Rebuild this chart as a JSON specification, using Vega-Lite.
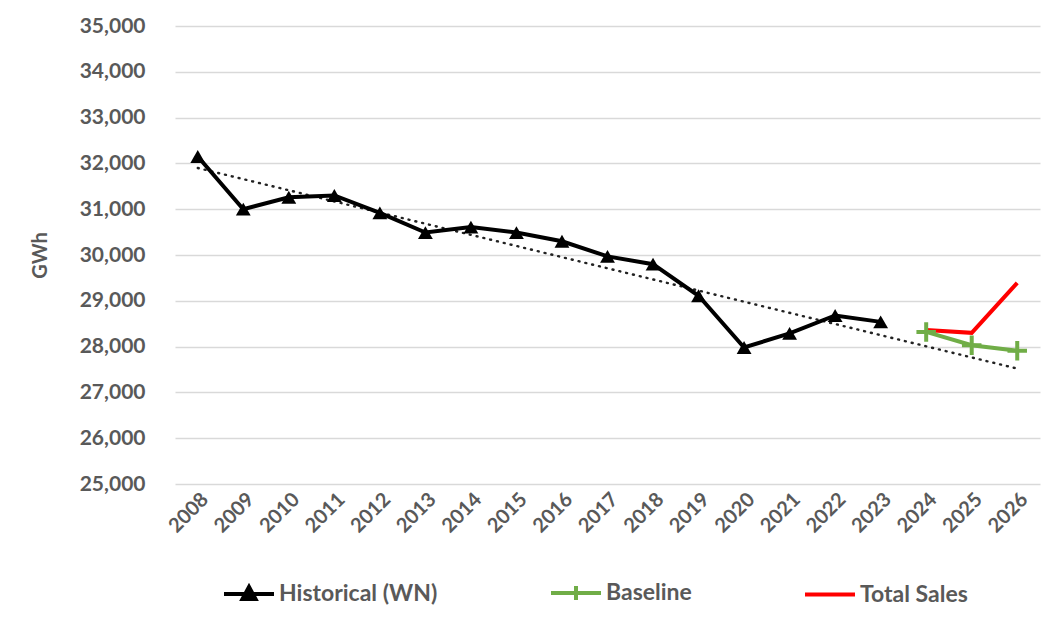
{
  "$schema": "https://vega.github.io/schema/vega-lite/v6.json",
  "autosize": {"type": "none"},
  "width": 865,
  "height": 458,
  "padding": {"left": 175, "top": 26, "right": 20, "bottom": 136},
  "background": "white",
  "config": {
    "font": "Lato",
    "view": {"stroke": null},
    "axis": {"labelFont": "Lato", "labelFontWeight": "bold", "labelColor": "#595959", "titleFont": "Lato", "titleColor": "#595959"}
  },
  "datasets": {
    "main": [
      {"year": "2008", "series": "Historical (WN)", "value": 32150},
      {"year": "2009", "series": "Historical (WN)", "value": 31000},
      {"year": "2010", "series": "Historical (WN)", "value": 31260},
      {"year": "2011", "series": "Historical (WN)", "value": 31300},
      {"year": "2012", "series": "Historical (WN)", "value": 30920},
      {"year": "2013", "series": "Historical (WN)", "value": 30490},
      {"year": "2014", "series": "Historical (WN)", "value": 30610},
      {"year": "2015", "series": "Historical (WN)", "value": 30490},
      {"year": "2016", "series": "Historical (WN)", "value": 30300},
      {"year": "2017", "series": "Historical (WN)", "value": 29970},
      {"year": "2018", "series": "Historical (WN)", "value": 29800},
      {"year": "2019", "series": "Historical (WN)", "value": 29110},
      {"year": "2020", "series": "Historical (WN)", "value": 27980},
      {"year": "2021", "series": "Historical (WN)", "value": 28290},
      {"year": "2022", "series": "Historical (WN)", "value": 28680},
      {"year": "2023", "series": "Historical (WN)", "value": 28540},
      {"year": "2024", "series": "Baseline", "value": 28320},
      {"year": "2025", "series": "Baseline", "value": 28030},
      {"year": "2026", "series": "Baseline", "value": 27910},
      {"year": "2024", "series": "Total Sales", "value": 28360},
      {"year": "2025", "series": "Total Sales", "value": 28300},
      {"year": "2026", "series": "Total Sales", "value": 29390}
    ],
    "trend": [
      {"year": "2008", "value": 31900},
      {"year": "2026", "value": 27520}
    ]
  },
  "encoding": {
    "x": {
      "field": "year", "type": "ordinal",
      "scale": {"type": "point", "padding": 0.5, "domain": ["2008","2009","2010","2011","2012","2013","2014","2015","2016","2017","2018","2019","2020","2021","2022","2023","2024","2025","2026"]},
      "axis": {"title": null, "labelAngle": -45, "labelFontSize": 20, "domain": false, "ticks": false, "grid": false, "labelPadding": 5}
    },
    "y": {
      "field": "value", "type": "quantitative",
      "scale": {"domain": [25000, 35000], "nice": false, "zero": false},
      "axis": {"title": "GWh", "titleFontSize": 20, "titleFontWeight": "bold", "titleX": -135, "titleY": 229, "titleAngle": -90, "titleAlign": "center", "titleBaseline": "middle", "values": [25000,26000,27000,28000,29000,30000,31000,32000,33000,34000,35000], "format": ",d", "labelFontSize": 21, "labelPadding": 30, "domain": false, "ticks": false, "gridColor": "#d9d9d9", "gridWidth": 1.5}
    }
  },
  "layer": [
    {
      "data": {"name": "trend"},
      "mark": {"type": "line", "color": "#222222", "strokeWidth": 2.4, "strokeDash": [1, 6], "strokeCap": "round"}
    },
    {
      "data": {"name": "main"},
      "mark": {"type": "line", "strokeWidth": 4},
      "encoding": {
        "color": {
          "field": "series", "type": "nominal",
          "scale": {"domain": ["Historical (WN)", "Baseline", "Total Sales"], "range": ["#000000", "#70ad47", "#ff0000"]},
          "legend": {
            "title": null, "orient": "none", "legendX": 47, "legendY": 540, "direction": "horizontal",
            "columnPadding": 105, "labelFont": "Lato", "labelFontSize": 23, "labelFontWeight": "bold", "labelColor": "#595959",
            "symbolSize": 2500, "symbolStrokeWidth": 4, "labelOffset": 3,
            "encode": {
              "symbols": {
                "update": {
                  "shape": {"signal": "datum.value === 'Historical (WN)' ? 'M-1,0H1M0,-0.28L0.26,0.2L-0.26,0.2Z' : (datum.value === 'Baseline' ? 'M-1,0H1M0,-0.28V0.28' : 'M-1,0H1')"},
                  "fill": {"signal": "datum.value === 'Historical (WN)' ? '#000000' : 'transparent'"},
                  "strokeWidth": {"value": 4}
                }
              }
            }
          }
        }
      }
    },
    {
      "data": {"name": "main"},
      "transform": [{"filter": "datum.series === 'Historical (WN)'"}],
      "mark": {"type": "point", "shape": "triangle-up", "filled": true, "color": "#000000", "size": 220, "opacity": 1}
    },
    {
      "data": {"name": "main"},
      "transform": [{"filter": "datum.series === 'Baseline'"}],
      "mark": {"type": "point", "shape": "M-1,0H1M0,-1V1", "filled": false, "color": "#70ad47", "strokeWidth": 4, "size": 380, "opacity": 1}
    }
  ]
}
